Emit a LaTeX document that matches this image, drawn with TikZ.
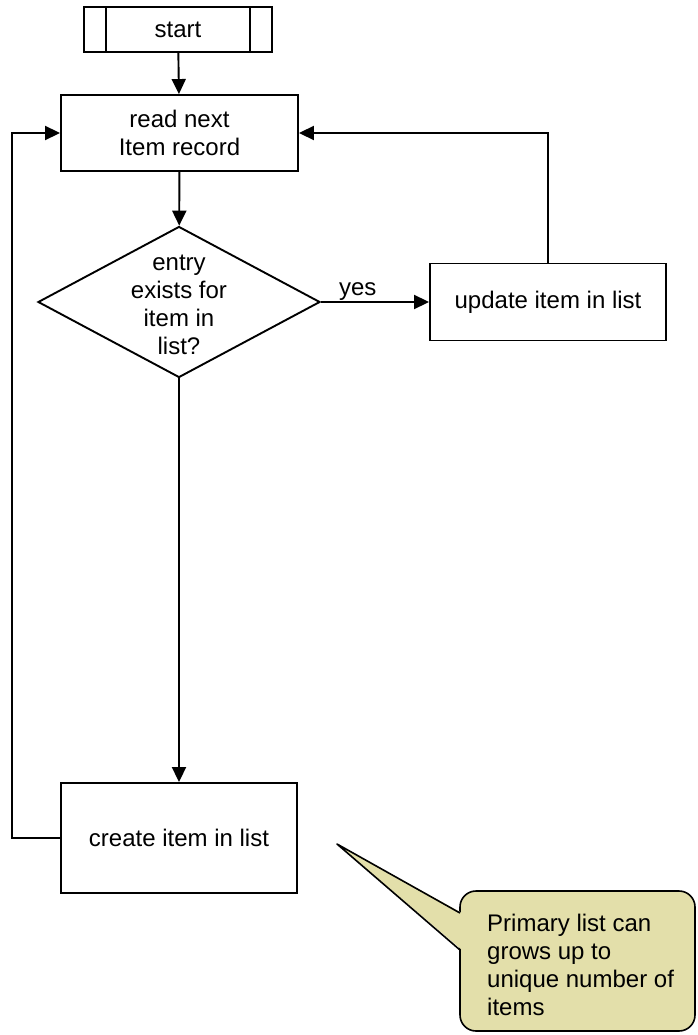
\documentclass[tikz,border=0pt]{standalone}
\usepackage{fontspec}
\setmainfont{Liberation Sans}
\usetikzlibrary{shapes.geometric,arrows.meta}
\definecolor{notefill}{RGB}{227,223,170}
\begin{document}
\begin{tikzpicture}[x=1pt,y=-1pt,
  every node/.style={font=\fontsize{24}{28}\selectfont},
  stepbox/.style={draw, line width=1.9pt, inner sep=0pt, align=center},
  decbox/.style={draw, diamond, line width=1.9pt, inner sep=0pt, minimum width=282pt, minimum height=151pt},
  arr/.style={line width=1.9pt, -{Triangle[length=15pt,width=14pt]}},
  ln/.style={line width=1.9pt},
  noteline/.style={line width=1.6pt, line join=round},
]
\useasboundingbox (0,0) rectangle (697,1035);
% start
\node[stepbox, minimum width=188pt, minimum height=45pt] (start) at (178,29.5) {start};
\draw[ln] ([xshift=23pt]start.north west) -- ([xshift=23pt]start.south west);
\draw[ln] ([xshift=-23pt]start.north east) -- ([xshift=-23pt]start.south east);
% read
\node[stepbox, minimum width=237pt, minimum height=76pt] (read) at (179.5,133) {read next\\Item record};
% decision
\node[decbox] (dia) at (179,302) {};
\node[align=center, inner sep=0pt] (diat) at (179,305) {entry\\exists for\\item in\\list?};
% update
\node[stepbox, minimum width=236pt, minimum height=77pt] (upd) at (548,302) {update item in list};
% create
\node[stepbox, minimum width=236pt, minimum height=110pt] (create) at (179,838) {create item in list};
% connectors
\draw[arr] (start) -- (read);
\draw[arr] (read) -- (dia);
\draw[arr] (dia.east) -- node[pos=0.34, above, inner sep=1pt] (yes) {yes} (upd.west);
\draw[arr] (upd.north) |- (read.east);
\draw[arr] (dia.south) -- (create.north);
\draw[arr] (create.west) -- ++(-48,0) |- (read.west);
% callout
\draw[noteline, fill=notefill, rounded corners=16pt] (460,891) rectangle (695,1031);
\fill[notefill] (462,913) -- (337,844) -- (462,950) -- cycle;
\draw[noteline] (460,913) -- (337,844) -- (460,950);
\node[align=left, anchor=north west, inner sep=0pt] (note) at (487,914)
  {Primary list can\\grows up to\\unique number of\\items};
\end{tikzpicture}
\end{document}
